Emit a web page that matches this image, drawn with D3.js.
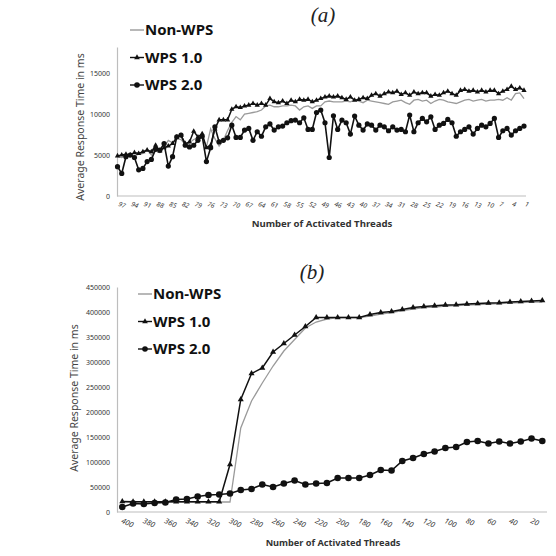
<!DOCTYPE html>
<html>
<head>
<meta charset="utf-8">
<script src="https://cdn.jsdelivr.net/npm/d3@7"></script>
<style>
  body { margin: 0; background: #fff; }
  svg text { font-family: "Noto Sans", "Open Sans", sans-serif; }
</style>
</head>
<body>
<div id="chart"></div>
<script>
// ###
// DATA
// ###

// panel (a): threads 97 -> 1
const threadsA = d3.range(97, 0, -1);
const xTicksA = d3.range(97, 0, -3);
const yTicksA = [0, 5000, 10000, 15000];

const nonWpsA = [
	4800, 4700, 4900, 5000, 4900, 5100, 5200, 5700, 5000, 5800,
	5300, 6000, 6800, 6500, 7000, 6900, 6300, 6500, 6900, 7100,
	7300, 6000, 8200, 7000, 6100, 6800, 8000, 9000, 9700, 9300,
	10000, 10100, 10200, 10300, 10500, 11000, 11100, 10900, 10900, 11000,
	11000, 11100, 11000, 10500, 10900, 11000, 10700, 11000, 11000, 11500,
	11600, 11500, 11500, 11500, 11600, 11500, 11700, 11600, 11400, 11700,
	11600, 11500, 11400, 11300, 11200, 11500, 11600, 11700, 11400, 11200,
	11700, 11800, 11600, 11700, 11300, 11600, 11800, 11700, 11500, 11400,
	11300, 11500, 11700, 11800, 11600, 11700, 11800, 11600, 11700, 11700,
	11800, 11700, 12000, 11700, 12500, 12600, 11900
];

const wps1A = [
	4900, 5000, 5100, 5000, 5300, 5200, 5400, 5600, 5400, 6200,
	5500, 5900, 6100, 6400, 7200, 7400, 6400, 6600, 7900, 7200,
	7600, 5900, 6200, 8200, 9300, 9300, 9300, 10600, 10900, 10800,
	11000, 11100, 11300, 11100, 11300, 11100, 11900, 11500, 11400, 11600,
	11300, 11700, 11500, 11800, 11700, 11800, 11500, 11700, 11900, 12100,
	12200, 12100, 12200, 12000, 11800, 12100, 11700, 11800, 12000, 11900,
	12300, 12500, 12200, 12500, 12700, 12600, 12800, 12400, 12600, 12300,
	12700, 12500, 12600, 12600, 12200, 12400, 12300, 12600, 12800, 12500,
	12300, 12900, 13000, 12800, 12900, 12700, 12900, 12700, 12900, 12900,
	12500, 12800, 13000, 13400, 13000, 13200, 12900
];

const wps2A = [
	3580, 2760, 4800, 5000, 4700, 3200, 3370, 4200, 4470, 5700,
	5600, 6400, 3660, 4800, 7240, 7440, 6200, 6000, 6200, 6800,
	7300, 4200, 5900, 8450, 6600, 6800, 7100, 8650, 7150, 7150,
	8050, 8250, 6800, 7850, 7300, 8450, 8800, 8050, 8450, 8540,
	8950, 9200, 9270, 8950, 9550, 8130, 8130, 10200, 10500, 8950,
	4700, 9800, 8130, 9270, 8950, 7560, 9760, 8650, 8050, 8800,
	8650, 8050, 8650, 8450, 7970, 8450, 8050, 8130, 7850, 9880,
	7850, 8950, 9470, 9060, 9670, 8130, 8650, 8860, 9350, 8950,
	7300, 7850, 8130, 8450, 7560, 8250, 8650, 8450, 8860, 9470,
	7150, 7970, 8250, 7440, 7970, 8250, 8540
];

// panel (b): threads 400 -> 10
const threadsB = d3.range(400, 0, -10);
const xTicksB = d3.range(400, 0, -20);
const yTicksB = [0, 50000, 100000, 150000, 200000, 250000, 300000, 350000, 400000, 450000];

const nonWpsB = [
	20000, 20000, 20000, 20000, 20000, 20000, 20000, 20000, 20000, 20000,
	20000, 168000, 222000, 258000, 292000, 322000, 345000, 368000, 380000, 386000,
	389000, 389000, 389000, 392000, 396000, 399000, 403000, 406000, 409000, 410000,
	412000, 413000, 414000, 415000, 416000, 417000, 418000, 419000, 420000, 420000
];

const wps1B = [
	21000, 20500, 20500, 20500, 20500, 20500, 20500, 20500, 20500, 20500,
	95000, 225000, 277000, 288000, 320000, 337000, 354000, 371000, 389000, 389000,
	389000, 389000, 389000, 395000, 399000, 401000, 405000, 409000, 411000, 412500,
	414000, 414500, 416000, 417000, 418000, 418500, 420000, 421000, 422000, 423000
];

const wps2B = [
	10000, 17000, 16000, 18000, 19000, 25000, 26000, 31000, 34000, 35000,
	37000, 44000, 46000, 55000, 50000, 57000, 63000, 55000, 57000, 58000,
	68000, 68000, 68000, 74000, 84000, 83000, 102000, 108000, 116000, 121000,
	128000, 130000, 140000, 142000, 137000, 141000, 137000, 141000, 147000, 142000
];

const seriesNames = ['Non-WPS', 'WPS 1.0', 'WPS 2.0'];

// ###
// DRAW
// ###

const svg = d3.select('#chart').append('svg')
	.attr('width', 556)
	.attr('height', 556);

function drawPanel(o) {
	const g = svg.append('g').classed('panel', true);

	const x = d3.scalePoint()
		.domain(o.threads)
		.range(o.xRange);

	const y = d3.scaleLinear()
		.domain(o.yDomain)
		.range(o.yRange);

	// y axis
	const yAxis = g.append('g')
		.attr('transform', `translate(${o.axisX},0)`)
		.call(d3.axisLeft(y).tickValues(o.yTicks).tickSize(0).tickPadding(7).tickFormat(d3.format('d')));
	yAxis.select('.domain').attr('stroke', '#bdbdbd').attr('stroke-width', 1.2);
	yAxis.selectAll('text')
		.attr('font-size', 7)
		.attr('fill', '#333')
		.style('font-family', '"Noto Sans", sans-serif');

	// x axis
	g.append('line')
		.attr('x1', o.axisX).attr('x2', o.xEnd)
		.attr('y1', y(0)).attr('y2', y(0))
		.attr('stroke', '#bdbdbd')
		.attr('stroke-width', 1.2);

	const xAxis = g.append('g')
		.attr('transform', `translate(0,${y(0)})`)
		.call(d3.axisBottom(x).tickValues(o.xTicks).tickSize(0));
	xAxis.select('.domain').remove();
	xAxis.selectAll('text')
		.attr('text-anchor', 'start')
		.attr('x', o.tickLabel.x)
		.attr('y', o.tickLabel.y)
		.attr('dy', '0.35em')
		.attr('transform', `rotate(${o.tickLabel.rot})`)
		.attr('font-size', o.tickLabel.size)
		.attr('font-style', 'italic')
		.attr('fill', '#333');

	// axis titles
	g.append('text')
		.attr('x', o.xTitle[0]).attr('y', o.xTitle[1])
		.attr('text-anchor', 'middle')
		.attr('font-size', o.xTitle[2])
		.attr('font-weight', 'bold')
		.attr('fill', '#333')
		.text('Number of Activated Threads');

	g.append('text')
		.attr('transform', `translate(${o.yTitle[0]},${o.yTitle[1]}) rotate(-90)`)
		.attr('text-anchor', 'middle')
		.attr('font-size', 10.5)
		.attr('fill', '#444')
		.text('Average Response Time in ms');

	// panel title
	g.append('text')
		.attr('x', o.title[0]).attr('y', o.title[1])
		.attr('text-anchor', 'middle')
		.attr('font-size', 21)
		.attr('font-style', 'italic')
		.style('font-family', '"Liberation Serif", serif')
		.attr('fill', '#222')
		.text(o.label);

	// lines
	const line = values => d3.line()
		.x((d, i) => x(o.threads[i]))
		.y(d => y(d))(values);

	g.append('path')
		.attr('d', line(o.nonWps))
		.attr('fill', 'none')
		.attr('stroke', '#9a9a9a')
		.attr('stroke-width', 1.3);

	g.append('path')
		.attr('d', line(o.wps1))
		.attr('fill', 'none')
		.attr('stroke', '#111')
		.attr('stroke-width', 1.5);

	g.append('path')
		.attr('d', line(o.wps2))
		.attr('fill', 'none')
		.attr('stroke', '#111')
		.attr('stroke-width', 1.6);

	const tri = d3.symbol(d3.symbolTriangle).size(o.triSize);

	g.append('g').selectAll('path')
		.data(o.wps1)
		.join('path')
		.attr('d', tri)
		.attr('transform', (d, i) => `translate(${x(o.threads[i])},${y(d)})`)
		.attr('fill', '#111');

	g.append('g').selectAll('circle')
		.data(o.wps2)
		.join('circle')
		.attr('cx', (d, i) => x(o.threads[i]))
		.attr('cy', d => y(d))
		.attr('r', o.dotR)
		.attr('fill', '#111');

	// legend
	const leg = g.append('g')
		.attr('transform', `translate(${o.legend[0]},${o.legend[1]})`);

	seriesNames.forEach((name, i) => {
		const row = leg.append('g').attr('transform', `translate(0,${i * o.legendStep})`);
		row.append('line')
			.attr('x1', 0).attr('x2', 14)
			.attr('stroke', i === 0 ? '#9a9a9a' : '#111')
			.attr('stroke-width', 1.4);
		if (i === 1) row.append('path').attr('d', d3.symbol(d3.symbolTriangle).size(14)).attr('transform', 'translate(7,0)').attr('fill', '#111');
		if (i === 2) row.append('circle').attr('cx', 7).attr('r', 2.8).attr('fill', '#111');
		row.append('text')
			.attr('x', 15)
			.attr('dy', '0.36em')
			.attr('font-size', 15)
			.attr('font-weight', 'bold')
			.attr('fill', '#111')
			.text(name);
	});
}

drawPanel({
	label: '(a)',
	title: [323, 22],
	threads: threadsA,
	xTicks: xTicksA,
	yTicks: yTicksA,
	nonWps: nonWpsA, wps1: wps1A, wps2: wps2A,
	xRange: [117.5, 524],
	yDomain: [0, 18200],
	yRange: [196, 47],
	axisX: 117,
	xEnd: 526,
	tickLabel: {x: 3.3, y: 6.9, rot: 20, size: 6.5},
	xTitle: [322, 227, 9.6],
	yTitle: [84, 127],
	legend: [130, 30],
	legendStep: 27.5,
	triSize: 12,
	dotR: 2.6
});

drawPanel({
	label: '(b)',
	title: [312, 279],
	threads: threadsB,
	xTicks: xTicksB,
	yTicks: yTicksB,
	nonWps: nonWpsB, wps1: wps1B, wps2: wps2B,
	xRange: [122.3, 542.3],
	yDomain: [0, 450000],
	yRange: [512, 287],
	axisX: 117,
	xEnd: 547,
	tickLabel: {x: 2.5, y: 7.7, rot: 25, size: 7.5},
	xTitle: [333, 546, 9.2],
	yTitle: [78, 398],
	legend: [138, 294],
	legendStep: 27.5,
	triSize: 16,
	dotR: 3.3
});
</script>
</body>
</html>
